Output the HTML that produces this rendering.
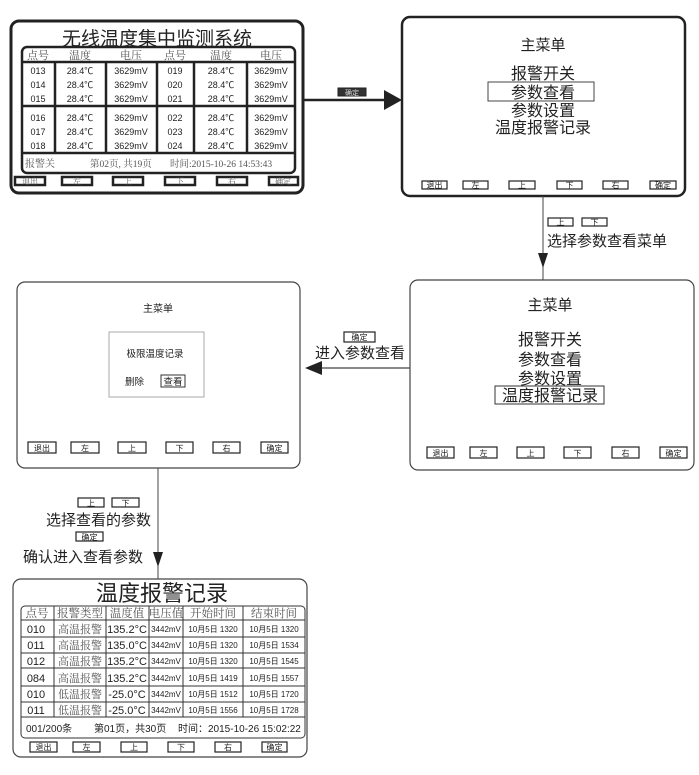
<!DOCTYPE html>
<html><head><meta charset="utf-8"><style>
html,body{margin:0;padding:0;background:#fff;}
svg{display:block;}
text{font-family:"Liberation Sans","Noto Sans CJK SC",sans-serif;fill:#222;}
.s{font-family:"Liberation Serif","Noto Serif CJK SC",serif;fill:#555;}
.b rect{fill:#fff;stroke:#222;stroke-width:1.2;}
.b text{font-size:8px;text-anchor:middle;}
</style></head><body>
<svg width="699" height="775" viewBox="0 0 699 775" xmlns="http://www.w3.org/2000/svg">
<!-- Top-left box -->
<rect x="11" y="21" width="292" height="172" rx="8" fill="#fff" stroke="#222" stroke-width="3"/>
<text x="157" y="45" font-size="19" text-anchor="middle">无线温度集中监测系统</text>
<rect x="22" y="47" width="273" height="126" rx="5" fill="#fff" stroke="#222" stroke-width="2.5"/>
<g stroke="#222" stroke-width="2.5">
<line x1="22" y1="62" x2="295" y2="62"/><line x1="22" y1="106" x2="295" y2="106"/><line x1="22" y1="153" x2="295" y2="153"/>
<line x1="55" y1="62" x2="55" y2="153"/><line x1="106" y1="62" x2="106" y2="153"/><line x1="157" y1="62" x2="157" y2="153"/><line x1="194" y1="62" x2="194" y2="153"/><line x1="247" y1="62" x2="247" y2="153"/>
</g>
<g class="s" font-size="11" text-anchor="middle">
<text class="s" x="38" y="59">点号</text><text class="s" x="80" y="59">温度</text><text class="s" x="131" y="59">电压</text><text class="s" x="175" y="59">点号</text><text class="s" x="221" y="59">温度</text><text class="s" x="271" y="59">电压</text>
</g>
<g font-size="9" text-anchor="middle">
<text x="38" y="74">013</text><text x="38" y="88">014</text><text x="38" y="102">015</text>
<text x="38" y="121">016</text><text x="38" y="135">017</text><text x="38" y="149">018</text>
<text x="175" y="74">019</text><text x="175" y="88">020</text><text x="175" y="102">021</text>
<text x="175" y="121">022</text><text x="175" y="135">023</text><text x="175" y="149">024</text>
<g>
<text x="80" y="74">28.4℃</text><text x="80" y="88">28.4℃</text><text x="80" y="102">28.4℃</text>
<text x="80" y="121">28.4℃</text><text x="80" y="135">28.4℃</text><text x="80" y="149">28.4℃</text>
<text x="221" y="74">28.4℃</text><text x="221" y="88">28.4℃</text><text x="221" y="102">28.4℃</text>
<text x="221" y="121">28.4℃</text><text x="221" y="135">28.4℃</text><text x="221" y="149">28.4℃</text>
<text x="131" y="74">3629mV</text><text x="131" y="88">3629mV</text><text x="131" y="102">3629mV</text>
<text x="131" y="121">3629mV</text><text x="131" y="135">3629mV</text><text x="131" y="149">3629mV</text>
<text x="271" y="74">3629mV</text><text x="271" y="88">3629mV</text><text x="271" y="102">3629mV</text>
<text x="271" y="121">3629mV</text><text x="271" y="135">3629mV</text><text x="271" y="149">3629mV</text>
</g></g>
<text class="s" x="25" y="167" font-size="10">报警关</text>
<text class="s" x="90" y="167" font-size="9.5">第02页, 共19页</text>
<text class="s" x="170" y="167" font-size="9.5">时间:2015-10-26 14:53:43</text>
<g stroke="#222" stroke-width="2.5" fill="#fff">
<rect x="15" y="177" width="30" height="8"/><rect x="62" y="177" width="30" height="8"/><rect x="113" y="177" width="30" height="8"/><rect x="165" y="177" width="30" height="8"/><rect x="217" y="177" width="30" height="8"/><rect x="269" y="177" width="29" height="8"/>
</g>
<g class="s" font-size="8" text-anchor="middle">
<text class="s" x="30" y="184">退出</text><text class="s" x="77" y="184">左</text><text class="s" x="128" y="184">上</text><text class="s" x="180" y="184">下</text><text class="s" x="232" y="184">右</text><text class="s" x="283" y="184">确定</text>
</g>

<!-- connector top -->
<line x1="303" y1="100" x2="388" y2="100" stroke="#222" stroke-width="2.5"/>
<polygon points="384,90 402,100 384,110" fill="#222"/>
<rect x="338" y="88" width="28" height="8" fill="#333" stroke="#222"/>
<text x="352" y="95" font-size="7" text-anchor="middle" style="fill:#ddd">确定</text>

<!-- Top-right box -->
<rect x="402" y="17" width="283" height="179" rx="8" fill="#fff" stroke="#222" stroke-width="2.5"/>
<text x="543" y="50" font-size="15" text-anchor="middle">主菜单</text>
<text x="543" y="79" font-size="16" text-anchor="middle">报警开关</text>
<rect x="488" y="82" width="106" height="19" fill="none" stroke="#444" stroke-width="1"/>
<text x="543" y="98" font-size="16" text-anchor="middle">参数查看</text>
<text x="543" y="116" font-size="16" text-anchor="middle">参数设置</text>
<text x="543" y="133" font-size="16" text-anchor="middle">温度报警记录</text>
<g class="b">
<rect x="422" y="181" width="25" height="8"/><text x="434.5" y="188">退出</text>
<rect x="463" y="181" width="25" height="8"/><text x="475.5" y="188">左</text>
<rect x="509" y="181" width="26" height="8"/><text x="522" y="188">上</text>
<rect x="557" y="181" width="25" height="8"/><text x="569.5" y="188">下</text>
<rect x="603" y="181" width="25" height="8"/><text x="615.5" y="188">右</text>
<rect x="650" y="181" width="26" height="8"/><text x="663" y="188">确定</text>
</g>

<!-- connector right vertical -->
<line x1="543" y1="196" x2="543" y2="281" stroke="#444" stroke-width="1"/>
<polygon points="538,253 548,253 543,268" fill="#222"/>
<g class="b">
<rect x="548" y="218" width="25" height="8"/><text x="560.5" y="225">上</text>
<rect x="582" y="218" width="25" height="8"/><text x="594.5" y="225">下</text>
</g>
<text x="547" y="246" font-size="15">选择参数查看菜单</text>

<!-- Middle-left box -->
<rect x="17" y="282" width="283" height="186" rx="8" fill="#fff" stroke="#444" stroke-width="1.2"/>
<text x="158" y="312" font-size="10" text-anchor="middle">主菜单</text>
<rect x="109" y="332" width="95" height="65" fill="#fff" stroke="#aaa" stroke-width="1"/>
<text x="155" y="357" font-size="9.5" text-anchor="middle">极限温度记录</text>
<text x="125" y="385" font-size="9.5">删除</text>
<rect x="161" y="375" width="24" height="12" fill="#fff" stroke="#333" stroke-width="1"/>
<text x="173" y="385" font-size="9.5" text-anchor="middle">查看</text>
<g class="b">
<rect x="28" y="442" width="28" height="11"/><text x="42" y="451" font-size="9">退出</text>
<rect x="71" y="442" width="28" height="11"/><text x="85" y="451">左</text>
<rect x="118" y="442" width="28" height="11"/><text x="132" y="451">上</text>
<rect x="166" y="442" width="27" height="11"/><text x="179.5" y="451">下</text>
<rect x="213" y="442" width="27" height="11"/><text x="226.5" y="451">右</text>
<rect x="261" y="442" width="27" height="11"/><text x="274.5" y="451">确定</text>
</g>

<!-- Middle-right box -->
<rect x="410" y="280" width="284" height="190" rx="8" fill="#fff" stroke="#444" stroke-width="1.2"/>
<text x="550" y="310" font-size="15" text-anchor="middle">主菜单</text>
<text x="550" y="345" font-size="16" text-anchor="middle">报警开关</text>
<text x="550" y="365" font-size="16" text-anchor="middle">参数查看</text>
<text x="550" y="384" font-size="16" text-anchor="middle">参数设置</text>
<rect x="495" y="386" width="109" height="18" fill="#fff" stroke="#333" stroke-width="1"/>
<text x="550" y="401" font-size="16" text-anchor="middle">温度报警记录</text>
<g class="b">
<rect x="427" y="447" width="27" height="11"/><text x="440.5" y="456">退出</text>
<rect x="470" y="447" width="27" height="11"/><text x="483.5" y="456">左</text>
<rect x="517" y="447" width="27" height="11"/><text x="530.5" y="456">上</text>
<rect x="564" y="447" width="27" height="11"/><text x="577.5" y="456">下</text>
<rect x="612" y="447" width="27" height="11"/><text x="625.5" y="456">右</text>
<rect x="660" y="447" width="27" height="11"/><text x="673.5" y="456">确定</text>
</g>

<!-- connector horizontal middle -->
<line x1="320" y1="368" x2="410" y2="368" stroke="#444" stroke-width="1.2"/>
<polygon points="305,368 322,361 322,375" fill="#222"/>
<g class="b"><rect x="344" y="332" width="31" height="10"/><text x="359.5" y="340">确定</text></g>
<text x="360" y="358" font-size="15" text-anchor="middle">进入参数查看</text>

<!-- connector bottom vertical -->
<line x1="158" y1="468" x2="158" y2="579" stroke="#444" stroke-width="1"/>
<polygon points="153,552 163,552 158,567" fill="#222"/>
<g class="b">
<rect x="78" y="498" width="26" height="9"/><text x="91" y="506">上</text>
<rect x="112" y="498" width="27" height="9"/><text x="125.5" y="506">下</text>
<rect x="76" y="532" width="27" height="9"/><text x="89.5" y="540">确定</text>
</g>
<text x="46" y="525" font-size="15">选择查看的参数</text>
<text x="23" y="562" font-size="15">确认进入查看参数</text>

<!-- Bottom box -->
<rect x="13" y="579" width="294" height="178" rx="8" fill="#fff" stroke="#444" stroke-width="1.2"/>
<text x="162" y="601" font-size="22" text-anchor="middle">温度报警记录</text>
<rect x="21" y="606" width="284" height="132" rx="4" fill="#fff" stroke="#333" stroke-width="1"/>
<g stroke="#333" stroke-width="1">
<line x1="21" y1="620" x2="305" y2="620"/><line x1="21" y1="637" x2="305" y2="637"/><line x1="21" y1="653" x2="305" y2="653"/><line x1="21" y1="668" x2="305" y2="668"/><line x1="21" y1="686" x2="305" y2="686"/><line x1="21" y1="702" x2="305" y2="702"/><line x1="21" y1="717" x2="305" y2="717"/>
<line x1="54" y1="606" x2="54" y2="717"/><line x1="106" y1="606" x2="106" y2="717"/><line x1="149" y1="606" x2="149" y2="717"/><line x1="183" y1="606" x2="183" y2="717"/><line x1="243" y1="606" x2="243" y2="717"/>
</g>
<g font-size="11.5" text-anchor="middle">
<text class="s" x="37" y="617">点号</text><text class="s" x="80" y="617">报警类型</text><text class="s" x="127" y="617">温度值</text><text class="s" x="166" y="617">电压值</text><text class="s" x="213" y="617">开始时间</text><text class="s" x="274" y="617">结束时间</text>
</g>
<g font-size="11" text-anchor="middle">
<text x="36" y="633">010</text><text x="36" y="649">011</text><text x="36" y="665">012</text><text x="36" y="682">084</text><text x="36" y="698">010</text><text x="36" y="714">011</text>
<text class="s" x="80" y="633">高温报警</text><text class="s" x="80" y="649">高温报警</text><text class="s" x="80" y="665">高温报警</text><text class="s" x="80" y="682">高温报警</text><text class="s" x="80" y="698">低温报警</text><text class="s" x="80" y="714">低温报警</text>
<text x="127" y="633">135.2°C</text><text x="127" y="649">135.0°C</text><text x="127" y="665">135.2°C</text><text x="127" y="682">135.2°C</text><text x="127" y="698">-25.0°C</text><text x="127" y="714">-25.0°C</text>
</g>
<g font-size="8" text-anchor="middle">
<text x="166" y="632">3442mV</text><text x="166" y="648">3442mV</text><text x="166" y="664">3442mV</text><text x="166" y="681">3442mV</text><text x="166" y="697">3442mV</text><text x="166" y="713">3442mV</text>
<text x="213" y="632">10月5日 1320</text><text x="213" y="648">10月5日 1320</text><text x="213" y="664">10月5日 1320</text><text x="213" y="681">10月5日 1419</text><text x="213" y="697">10月5日 1512</text><text x="213" y="713">10月5日 1556</text>
<text x="274" y="632">10月5日 1320</text><text x="274" y="648">10月5日 1534</text><text x="274" y="664">10月5日 1545</text><text x="274" y="681">10月5日 1557</text><text x="274" y="697">10月5日 1720</text><text x="274" y="713">10月5日 1728</text>
</g>
<text x="26" y="732" font-size="10">001/200条</text>
<text x="94" y="732" font-size="10">第01页，共30页</text>
<text x="178" y="732" font-size="10">时间：2015-10-26 15:02:22</text>
<g class="b">
<rect x="30" y="742" width="27" height="10"/><text x="43.5" y="750">退出</text>
<rect x="73" y="742" width="27" height="10"/><text x="86.5" y="750">左</text>
<rect x="121" y="742" width="26" height="10"/><text x="134" y="750">上</text>
<rect x="168" y="742" width="26" height="10"/><text x="181" y="750">下</text>
<rect x="215" y="742" width="26" height="10"/><text x="228" y="750">右</text>
<rect x="262" y="742" width="25" height="10"/><text x="274.5" y="750">确定</text>
</g>
</svg>
</body></html>
